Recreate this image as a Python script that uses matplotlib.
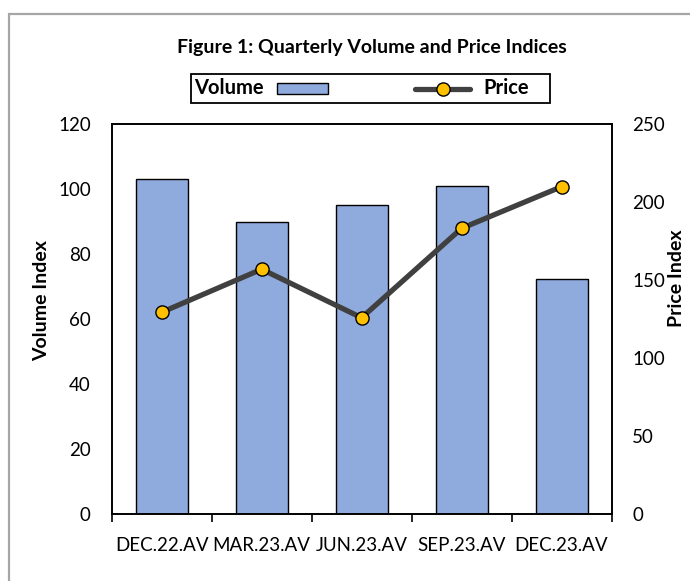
import matplotlib
matplotlib.use('Agg')
import matplotlib.pyplot as plt
from matplotlib.patches import Rectangle
from matplotlib.lines import Line2D

quarters = ['DEC.22.AV', 'MAR.23.AV', 'JUN.23.AV', 'SEP.23.AV', 'DEC.23.AV']
volume_index = [103.2, 89.8, 95.2, 101.1, 72.4]
price_index = [129.5, 157.1, 126.0, 183.3, 210.0]

plt.rcParams['font.family'] = ['Lato', 'DejaVu Sans']

W, H = 690, 581
fig = plt.figure(figsize=(W / 100, H / 100), dpi=100)
fig.patch.set_facecolor('white')

ax = fig.add_axes([111.7 / W, 1 - 514.3 / H, (611.5 - 111.7) / W, (514.3 - 124.3) / H])
ax2 = ax.twinx()

x = list(range(len(quarters)))
ax.bar(x, volume_index, width=0.52, color='#8FAADC', edgecolor='black', linewidth=1.0, zorder=2)
ax2.plot(x, price_index, color='#404040', linewidth=3.8, marker='o', markersize=9.5,
         markerfacecolor='#FFC000', markeredgecolor='black', markeredgewidth=1.0, zorder=3)

ax.set_xlim(-0.5, len(quarters) - 0.5)
ax.set_ylim(0, 120)
ax2.set_ylim(0, 250)
ax.set_yticks([0, 20, 40, 60, 80, 100, 120])
ax2.set_yticks([0, 50, 100, 150, 200, 250])

ax.set_xticks(x)
ax.set_xticklabels(quarters, fontsize=13.5)
ax.set_xticks([i - 0.5 for i in range(len(quarters) + 1)], minor=True)
ax.tick_params(axis='x', which='major', length=0, pad=16)
ax.tick_params(axis='x', which='minor', length=6, width=1.2, direction='out')
ax.tick_params(axis='y', length=0, pad=15, labelsize=13.5)
ax2.tick_params(axis='y', length=0, pad=15, labelsize=13.5)

for a in (ax, ax2):
    for s in a.spines.values():
        s.set_linewidth(1.2)
        s.set_color('black')

ax.set_ylabel('Volume Index', fontsize=14, fontweight='bold', va='center', rotation=90)
ax2.set_ylabel('Price Index', fontsize=14, fontweight='bold', va='center', rotation=90)
ax.yaxis.set_label_coords((42 - 111.7) / (611.5 - 111.7), (514.3 - 301) / 390)
ax2.yaxis.set_label_coords((676 - 111.7) / (611.5 - 111.7), (514.3 - 278) / 390)

fig.text(372 / W, 1 - 48 / H, 'Figure 1: Quarterly Volume and Price Indices',
         ha='center', va='center', fontsize=14, fontweight='bold')

# legend drawn by hand to match the original layout
def fx(px):
    return px / W

def fy(py):
    return 1 - py / H

fig.add_artist(Rectangle((fx(191), fy(103.3)), fx(550) - fx(191), fy(74) - fy(103.3),
                         transform=fig.transFigure, facecolor='white', edgecolor='black', linewidth=1.3))
fig.text(fx(194), fy(88.5), 'Volume', ha='left', va='center', fontsize=14.5, fontweight='bold')
fig.add_artist(Rectangle((fx(277), fy(94.3)), fx(327.7) - fx(277), fy(83.3) - fy(94.3),
                         transform=fig.transFigure, facecolor='#8FAADC', edgecolor='black', linewidth=1.0))
fig.add_artist(Line2D([fx(415), fx(470)], [fy(89), fy(89)], transform=fig.transFigure,
                      color='#404040', linewidth=3.8, solid_capstyle='round'))
fig.add_artist(Line2D([fx(443)], [fy(89)], transform=fig.transFigure, marker='o', markersize=9.5,
                      markerfacecolor='#FFC000', markeredgecolor='black', markeredgewidth=1.0))
fig.text(fx(483), fy(88.5), 'Price', ha='left', va='center', fontsize=14.5, fontweight='bold')

# outer chart border (only left and top edges fall inside the picture)
fig.add_artist(Rectangle((fx(9), fy(620)), fx(720) - fx(9), fy(14) - fy(620),
                         transform=fig.transFigure, facecolor='none', edgecolor='#A6A6A6', linewidth=1.6))

fig.savefig('out.png', dpi=100)
